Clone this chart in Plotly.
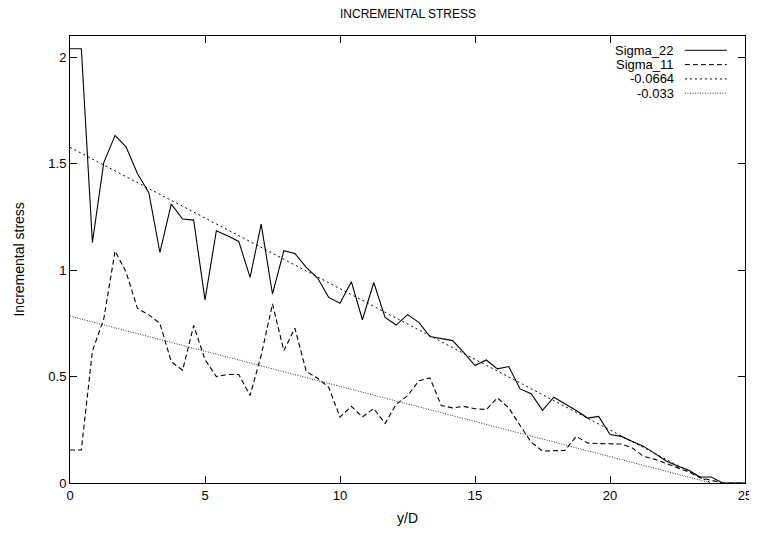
import plotly.graph_objects as go

# ---- data ----
y_over_d = [0, 0.42, 0.83, 1.25, 1.67, 2.08, 2.5, 2.92, 3.33, 3.75, 4.17, 4.58, 5.0, 5.42,
            5.83, 6.25, 6.67, 7.08, 7.5, 7.92, 8.33, 8.75, 9.17, 9.58, 10.0, 10.42, 10.83,
            11.25, 11.67, 12.08, 12.5, 12.92, 13.33, 13.75, 14.17, 14.58, 15.0, 15.42, 15.83,
            16.25, 16.67, 17.08, 17.5, 17.92, 18.33, 18.75, 19.17, 19.58, 20.0, 20.42, 20.83,
            21.25, 21.67, 22.08, 22.5, 22.92, 23.33, 23.75, 24.17, 24.58, 25.0]

sigma_22 = [2.04, 2.04, 1.13, 1.505, 1.633, 1.578, 1.453, 1.364, 1.083, 1.31, 1.24, 1.235,
            0.86, 1.185, 1.161, 1.135, 0.966, 1.216, 0.888, 1.091, 1.078, 1.013, 0.963, 0.872,
            0.844, 0.946, 0.767, 0.942, 0.778, 0.742, 0.791, 0.755, 0.688, 0.68, 0.669, 0.614,
            0.552, 0.578, 0.536, 0.547, 0.442, 0.419, 0.341, 0.403, 0.372, 0.341, 0.305, 0.313,
            0.228, 0.219, 0.195, 0.172, 0.138, 0.103, 0.08, 0.06, 0.028, 0.028, 0.0, 0.0, 0.0]

sigma_11 = [0.155, 0.155, 0.62, 0.77, 1.09, 0.99, 0.82, 0.79, 0.75, 0.57, 0.53, 0.74, 0.58,
            0.50, 0.51, 0.51, 0.411, 0.60, 0.841, 0.622, 0.727, 0.524, 0.492, 0.45, 0.31, 0.36,
            0.31, 0.35, 0.28, 0.37, 0.41, 0.48, 0.494, 0.364, 0.353, 0.36, 0.349, 0.345, 0.40,
            0.353, 0.27, 0.192, 0.15, 0.15, 0.153, 0.219, 0.188, 0.185, 0.185, 0.183, 0.164,
            0.125, 0.111, 0.091, 0.072, 0.052, 0.025, 0.013, 0.0, 0.0, 0.0]

fit_labels = ["-0.0664", "-0.033"]
fit_slopes = [-0.0664, -0.033]
fit_x_end = [0, 23.75]
fit_intercepts = [1.577, 0.784]

x_ticks = [0, 5, 10, 15, 20, 25]
y_ticks = [0, 0.5, 1, 1.5, 2]

FONT = "Liberation Sans, Arial, sans-serif"

fig = go.Figure()
fig.add_trace(go.Scatter(x=y_over_d, y=sigma_22, mode="lines", name="Sigma_22",
                         line=dict(color="black", width=1.1), showlegend=False))
fig.add_trace(go.Scatter(x=y_over_d, y=sigma_11, mode="lines", name="Sigma_11",
                         line=dict(color="black", width=1.1, dash="5px,3px"), showlegend=False))
fit_dash = ["2px,3px", "1px,1.5px"]
fit_color = ["black", "#333333"]
for lab, m, b, d, c in zip(fit_labels, fit_slopes, fit_intercepts, fit_dash, fit_color):
    xs = fit_x_end
    ys = [b + m * x for x in xs]
    fig.add_trace(go.Scatter(x=xs, y=ys, mode="lines", name=lab,
                             line=dict(color=c, width=1, dash=d), showlegend=False))

# gnuplot-style key: text right-aligned, sample on the right
key_names = ["Sigma_22", "Sigma_11"] + fit_labels
key_dash = ["solid", "5px,3px"] + fit_dash
key_y = [0.968, 0.936, 0.904, 0.872]
for name, d, ky, c in zip(key_names, key_dash, key_y, ["black", "black"] + fit_color):
    fig.add_annotation(x=0.897, y=ky, xref="paper", yref="paper", text=name,
                       showarrow=False, xanchor="right", yanchor="middle", borderpad=0,
                       font=dict(family=FONT, size=13, color="black"))
    fig.add_shape(type="line", xref="paper", yref="paper", x0=0.911, x1=0.973,
                  y0=ky, y1=ky, line=dict(color=c, width=1, dash=d))

# titles placed as in the reference
fig.add_annotation(x=0.5, y=1.049, xref="paper", yref="paper", text="INCREMENTAL STRESS",
                   showarrow=False, xanchor="center", yanchor="middle",
                   font=dict(family=FONT, size=12, color="black"))
fig.add_annotation(x=0.5, y=-0.079, xref="paper", yref="paper", text="y/D",
                   showarrow=False, xanchor="center", yanchor="middle",
                   font=dict(family=FONT, size=14, color="black"))
fig.add_annotation(x=-0.077, y=0.5, xref="paper", yref="paper", text="Incremental stress",
                   showarrow=False, xanchor="center", yanchor="middle", textangle=-90,
                   font=dict(family=FONT, size=14, color="black"))

axis_common = dict(showline=True, linecolor="black", linewidth=1, mirror="allticks",
                   ticks="inside", ticklen=7, tickcolor="black", showgrid=False,
                   zeroline=False, automargin=False,
                   tickfont=dict(family=FONT, size=13, color="black"))
fig.update_xaxes(range=[0, 25], tickvals=x_ticks, **axis_common)
fig.update_yaxes(range=[0, 2.1], tickvals=y_ticks, **axis_common)

# the page body adds an 8px offset; size the figure so the plot area lands where the reference has it
fig.update_layout(
    width=749, height=530,
    margin=dict(l=62, r=12, t=28, b=55, autoexpand=False),
    paper_bgcolor="white", plot_bgcolor="white",
    font=dict(family=FONT, size=13, color="black"),
)

fig.write_html("out.html")
